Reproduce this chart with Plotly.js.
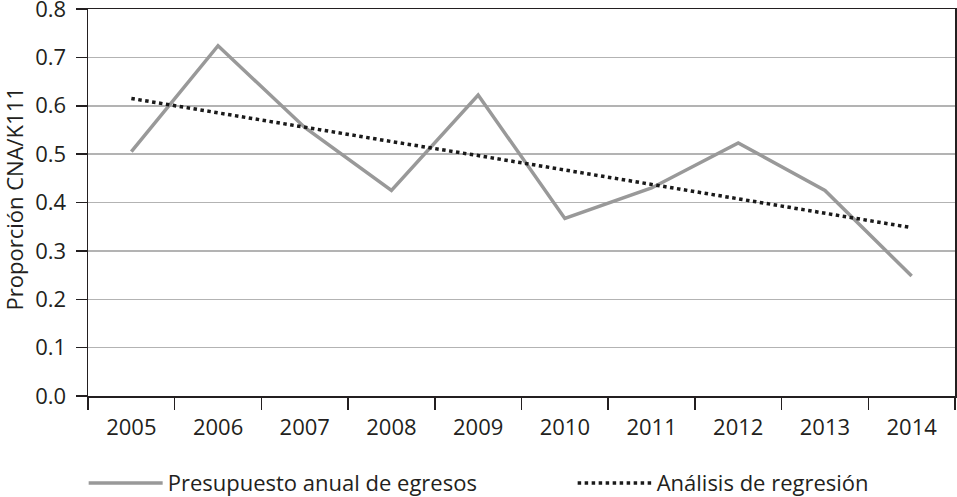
<!DOCTYPE html>
<html>
<head>
<meta charset="utf-8">
<script src="https://cdn.plot.ly/plotly-3.0.1.min.js"></script>
<style>html,body{margin:0;padding:0;background:#fff;}#chart{width:957px;height:497px;}</style>
</head>
<body>
<div id="chart"></div>
<script>
var years = ['2005','2006','2007','2008','2009','2010','2011','2012','2013','2014'];
var presupuesto = [0.505, 0.724, 0.555, 0.425, 0.622, 0.367, 0.430, 0.523, 0.425, 0.248];
var regresion = [0.615, 0.585, 0.556, 0.526, 0.497, 0.467, 0.437, 0.408, 0.378, 0.348];
var seriesNames = ['Presupuesto anual de egresos', 'Análisis de regresión'];
var yTitle = 'Proporción CNA/K111';

var font = 'Open Sans, Noto Sans, sans-serif';
var traces = [
  {x: years, y: presupuesto, type: 'scatter', mode: 'lines', name: seriesNames[0],
   line: {color: '#999999', width: 3.5}, legend: 'legend'},
  {x: years, y: regresion, type: 'scatter', mode: 'lines', name: seriesNames[1],
   line: {color: '#1a1a1a', width: 3.5, dash: 'dot'}, legend: 'legend2'}
];
var legFont = {family: font, size: 22, color: '#231f20'};
var layout = {
  width: 957, height: 497,
  margin: {l: 88, r: 2, t: 9, b: 101, pad: 0},
  paper_bgcolor: '#fff', plot_bgcolor: '#fff',
  font: {family: font, size: 22, color: '#231f20'},
  showlegend: true,
  legend: {orientation: 'h', x: -0.005, xanchor: 'left', yref: 'container', y: 0.028, yanchor: 'middle',
           itemwidth: 74, font: legFont, bgcolor: 'rgba(0,0,0,0)'},
  legend2: {orientation: 'h', x: 0.559, xanchor: 'left', yref: 'container', y: 0.028, yanchor: 'middle',
           itemwidth: 74, font: legFont, bgcolor: 'rgba(0,0,0,0)'},
  xaxis: {type: 'category', range: [-0.5, 9.5], tickson: 'boundaries', ticks: 'outside', ticklen: 12, tickwidth: 1.5,
          tickcolor: '#231f20', showline: true, linecolor: '#231f20', linewidth: 1.5, mirror: true,
          showgrid: false, zeroline: false, fixedrange: true, ticklabelstandoff: 11,
          tickfont: {family: font, size: 22, color: '#231f20'}},
  yaxis: {range: [0, 0.8], dtick: 0.1, tick0: 0, tickformat: '.1f', ticks: 'outside', ticklen: 11,
          tickwidth: 1.5, tickcolor: '#231f20', showline: true, linecolor: '#231f20', linewidth: 1.5,
          mirror: true, showgrid: true, gridcolor: '#b3b3b3', gridwidth: 1.5, zeroline: false,
          ticklabelstandoff: 5, ticklabeloverflow: 'allow', tickfont: {family: font, size: 22, color: '#231f20'}},
  annotations: [{text: yTitle, xref: 'paper', yref: 'paper', x: -0.0855, y: 0.51, textangle: -90,
                 showarrow: false, xanchor: 'center', yanchor: 'middle',
                 font: {family: font, size: 22, color: '#231f20'}}]
};
Plotly.newPlot('chart', traces, layout, {displayModeBar: false, staticPlot: true});
</script>
</body>
</html>
